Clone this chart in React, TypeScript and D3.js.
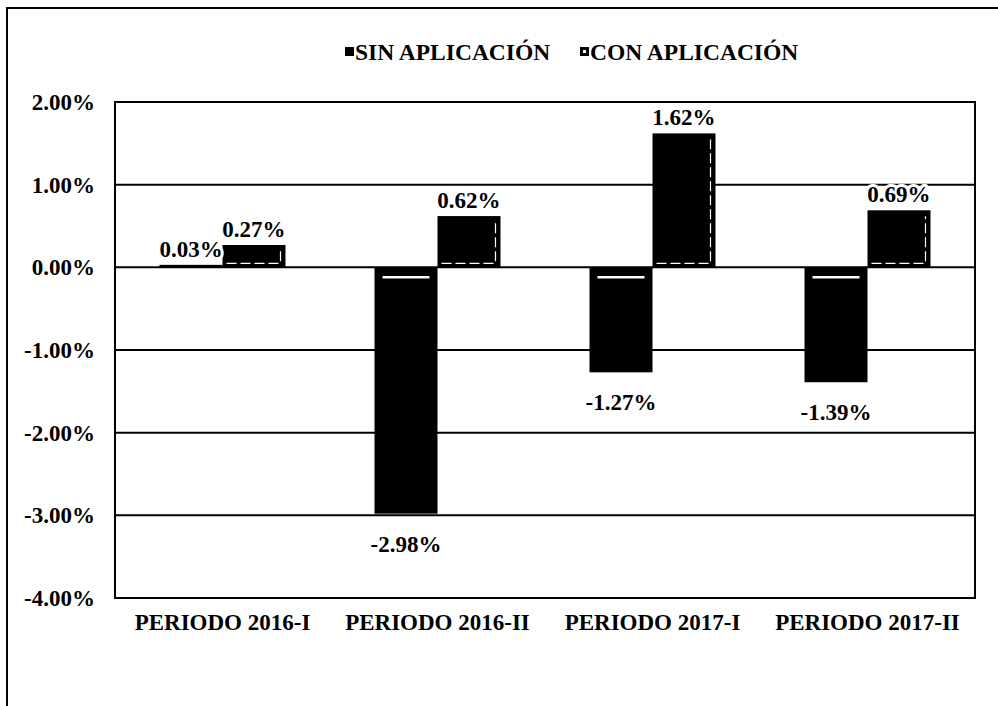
import { useEffect, useRef } from "react"
import * as d3 from "d3"

const categories = ["PERIODO 2016-I", "PERIODO 2016-II", "PERIODO 2017-I", "PERIODO 2017-II"]
const seriesNames = ["SIN APLICACIÓN", "CON APLICACIÓN"]
const sinValues = [0.03, -2.98, -1.27, -1.39]
const conValues = [0.27, 0.62, 1.62, 0.69]
const yTicks = [2, 1, 0, -1, -2, -3, -4]

const FONT = "'Liberation Serif', 'Times New Roman', serif"
const pct = (v: number) => d3.format(".2f")(v).replace("−", "-") + "%"

export default function App() {
  const svgRef = useRef<SVGSVGElement>(null)

  useEffect(() => {
    if (!svgRef.current) return
    d3.select(svgRef.current).selectAll("*").remove()

    const width = 998
    const height = 706
    const plot = { left: 115, right: 975, top: 102, bottom: 598 }

    const svg = d3.select(svgRef.current).attr("width", width).attr("height", height)

    svg.append("rect").attr("width", width).attr("height", height).attr("fill", "white")

    // outer frame (runs off the right and bottom edges)
    svg
      .append("rect")
      .attr("x", 7)
      .attr("y", 8)
      .attr("width", 1010)
      .attr("height", 720)
      .attr("fill", "none")
      .attr("stroke", "black")
      .attr("stroke-width", 2)

    const x = d3.scaleBand().domain(categories).range([plot.left, plot.right])
    const barW = x.bandwidth() * 0.293
    const y = d3.scaleLinear().domain([-4, 2]).range([plot.bottom, plot.top])

    // gridlines
    svg
      .selectAll(".grid")
      .data(yTicks.filter((t) => t > -4 && t < 2))
      .enter()
      .append("line")
      .attr("x1", plot.left)
      .attr("x2", plot.right)
      .attr("y1", (d) => y(d))
      .attr("y2", (d) => y(d))
      .attr("stroke", "black")
      .attr("stroke-width", 2)

    // plot border
    svg
      .append("rect")
      .attr("x", plot.left)
      .attr("y", plot.top)
      .attr("width", plot.right - plot.left)
      .attr("height", plot.bottom - plot.top)
      .attr("fill", "none")
      .attr("stroke", "black")
      .attr("stroke-width", 2)

    // y tick labels
    svg
      .selectAll(".ytick")
      .data(yTicks)
      .enter()
      .append("text")
      .attr("x", 95)
      .attr("y", (d) => y(d))
      .attr("dy", "0.35em")
      .attr("text-anchor", "end")
      .style("font-family", FONT)
      .style("font-weight", "bold")
      .style("font-size", "23px")
      .text((d) => pct(d))

    // category labels
    svg
      .selectAll(".xtick")
      .data(categories)
      .enter()
      .append("text")
      .attr("x", (d) => (x(d) || 0) + x.bandwidth() / 2)
      .attr("y", 630)
      .attr("text-anchor", "middle")
      .style("font-family", FONT)
      .style("font-weight", "bold")
      .style("font-size", "23px")
      .text((d) => d)

    const bars = [
      ...categories.map((c, i) => ({ cat: c, s: 0, v: sinValues[i] })),
      ...categories.map((c, i) => ({ cat: c, s: 1, v: conValues[i] })),
    ]
    const bx = (d: { cat: string; s: number }) =>
      (x(d.cat) || 0) + x.bandwidth() / 2 - barW + d.s * barW

    // bars
    svg
      .selectAll(".bar")
      .data(bars)
      .enter()
      .append("rect")
      .attr("x", bx)
      .attr("width", barW)
      .attr("y", (d) => y(Math.max(0, d.v)))
      .attr("height", (d) => Math.max(2, Math.abs(y(d.v) - y(0))))
      .attr("fill", "black")

    // white bevel highlights on the negative bars
    svg
      .selectAll(".hl")
      .data(bars.filter((d) => d.v < -0.5))
      .enter()
      .append("line")
      .attr("x1", (d) => bx(d) + 8)
      .attr("x2", (d) => bx(d) + barW - 8)
      .attr("y1", y(0) + 10)
      .attr("y2", y(0) + 10)
      .attr("stroke", "white")
      .attr("stroke-width", 2.5)

    // dashed inner edges on the positive CON bars
    const pos = bars.filter((d) => d.s === 1)
    svg
      .selectAll(".dr")
      .data(pos)
      .enter()
      .append("path")
      .attr("d", (d) => {
        const x0 = bx(d) + 4
        const x1 = bx(d) + barW - 5
        const yt = y(d.v) + 6
        const yb = y(0) - 4
        return `M${x0},${yb}L${x1},${yb}L${x1},${yt}`
      })
      .attr("fill", "none")
      .attr("stroke", "white")
      .attr("stroke-width", 1.2)
      .attr("stroke-dasharray", "10,4")

    // value labels
    svg
      .selectAll(".val")
      .data(bars)
      .enter()
      .append("text")
      .attr("x", (d) => bx(d) + barW / 2)
      .attr("y", (d) => (d.v >= 0 ? y(d.v) - 8 : y(d.v) + 38))
      .attr("text-anchor", "middle")
      .style("font-family", FONT)
      .style("font-weight", "bold")
      .style("font-size", "23px")
      .style("paint-order", "stroke")
      .style("stroke", "white")
      .style("stroke-width", "6px")
      .style("stroke-linejoin", "round")
      .text((d) => pct(d.v))

    // legend
    const legendX = [345, 580]
    const legend = svg
      .selectAll(".legend")
      .data(seriesNames)
      .enter()
      .append("g")
      .attr("transform", (_, i) => `translate(${legendX[i]},52)`)
    legend
      .append("rect")
      .attr("x", 0)
      .attr("y", -5)
      .attr("width", 9)
      .attr("height", 9)
      .attr("fill", "black")
    legend
      .filter((_, i) => i === 1)
      .append("rect")
      .attr("x", 3)
      .attr("y", -2)
      .attr("width", 3)
      .attr("height", 3)
      .attr("fill", "white")
    legend
      .append("text")
      .attr("x", 10)
      .attr("y", 0)
      .attr("dy", "0.35em")
      .style("font-family", FONT)
      .style("font-weight", "bold")
      .style("font-size", "23.5px")
      .text((d) => d)
  }, [])

  return <svg ref={svgRef} style={{ position: "absolute", left: 0, top: 0 }}></svg>
}
